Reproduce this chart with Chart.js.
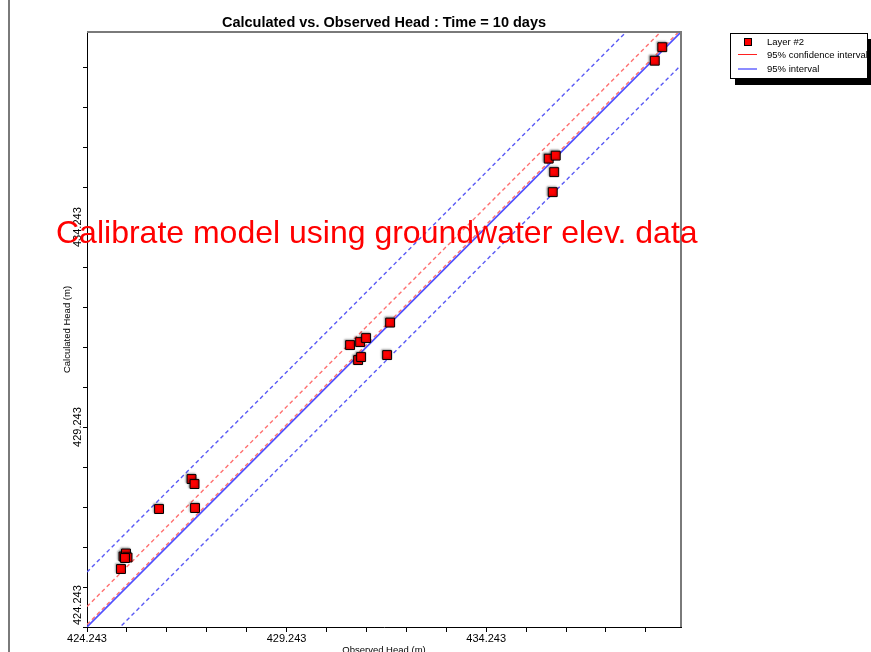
<!DOCTYPE html>
<html>
<head>
<meta charset="utf-8">
<script src="https://cdn.jsdelivr.net/npm/chart.js@4/dist/chart.umd.min.js"></script>
<style>
  html, body { margin: 0; padding: 0; background: #fff; }
  #wrap { position: relative; width: 871px; height: 652px; overflow: hidden; font-family: 'Liberation Sans', Arial, sans-serif; }
  #c { position: absolute; left: 0; top: 0; }
  #frameLine { position: absolute; left: 8px; top: 0; width: 2px; height: 652px; background: #7a7a7a; }
  #legend { position: absolute; left: 730px; top: 33px; width: 136px; height: 44px; border: 1px solid #000; background: #fff; box-shadow: 5px 6px 0 #000; font-size: 9.5px; color: #000; white-space: nowrap; }
  #legend .t { position: absolute; left: 36px; line-height: 12px; }
  #legend .mk { position: absolute; left: 13px; top: 4px; width: 6px; height: 6px; background: #ff0000; border: 1px solid #000; }
  #legend .ln { position: absolute; left: 7px; width: 19px; }
  #overlay { position: absolute; left: 56px; top: 216px; font-size: 32px; line-height: 32px; color: #ff0000; white-space: nowrap; }
</style>
</head>
<body>
<div id="wrap">
  <canvas id="c" width="871" height="652"></canvas>
  <div id="frameLine"></div>
  <div id="legend">
    <div class="mk"></div>
    <div class="t" style="top:2px;">Layer #2</div>
    <div class="ln" style="top:20px;height:1px;background:#ff2020;"></div>
    <div class="t" style="top:15px;">95% confidence interval</div>
    <div class="ln" style="top:34px;height:2px;background:#8c8cff;"></div>
    <div class="t" style="top:29px;">95% interval</div>
  </div>
  <div id="overlay">Calibrate model using groundwater elev. data</div>
</div>
<script>
// ---- data ----
const observedHead = [425.095, 425.158, 425.220, 425.258, 425.195, 426.048, 426.862, 426.937, 426.950,
  430.834, 431.085, 431.235, 431.837, 431.035, 431.110, 431.762,
  435.809, 435.985, 435.947, 435.910, 438.654, 438.466];
const calculatedHead = [425.693, 426.006, 426.081, 425.981, 425.968, 427.193, 427.943, 427.818, 427.218,
  431.293, 431.368, 431.468, 431.856, 430.918, 430.993, 431.043,
  435.956, 436.031, 435.618, 435.118, 438.743, 438.405];
const axisRange = [424.243, 439.123];
const tickValues = [424.243, 425.243, 426.243, 427.243, 428.243, 429.243, 430.243, 431.243,
  432.243, 433.243, 434.243, 435.243, 436.243, 437.243, 438.243];
const majorTickLabels = ['424.243', '429.243', '434.243'];
const confidenceOffsets = [0.51, 0.06];   // 95% confidence interval (calc - obs)
const intervalOffsets = [1.375, -0.83];   // 95% interval (calc - obs)
const titleText = 'Calculated vs. Observed Head : Time = 10 days';
const xTitle = 'Observed Head (m)';
const yTitle = 'Calculated Head (m)';

const FONT = "'Liberation Sans', Arial, sans-serif";
Chart.defaults.font.family = FONT;

function offsetLine(off) {
  return [{ x: axisRange[0], y: axisRange[0] + off }, { x: axisRange[1], y: axisRange[1] + off }];
}
function labelFor(v) {
  const l = majorTickLabels.find(s => Math.abs(parseFloat(s) - v) < 1e-6);
  return l || '';
}

const datasets = [
  {
    label: 'Layer #2', type: 'scatter',
    data: observedHead.map((x, i) => ({ x, y: calculatedHead[i] })),
    pointStyle: 'rect', pointRadius: 6.3, pointHoverRadius: 6.3,
    backgroundColor: '#ff0000', borderColor: '#000', borderWidth: 1, order: 0
  },
  {
    label: '1:1', type: 'line', data: offsetLine(0),
    borderColor: '#4f4fff', borderWidth: 1.6, pointRadius: 0, order: 1
  }
];
confidenceOffsets.forEach(o => datasets.push({
  label: '95% confidence interval', type: 'line', data: offsetLine(o),
  borderColor: '#ff7070', borderWidth: 1.4, borderDash: [4, 3], pointRadius: 0, order: 2
}));
intervalOffsets.forEach(o => datasets.push({
  label: '95% interval', type: 'line', data: offsetLine(o),
  borderColor: '#5a5af5', borderWidth: 1.4, borderDash: [4, 3], pointRadius: 0, order: 2
}));

const shadowPlugin = {
  id: 'pointShadow',
  beforeDatasetDraw(chart, args) {
    if (args.index === 0) {
      const c = chart.ctx; c.save();
      c.shadowColor = 'rgba(0,0,0,0.35)'; c.shadowBlur = 2; c.shadowOffsetX = -1; c.shadowOffsetY = -1;
    }
  },
  afterDatasetDraw(chart, args) { if (args.index === 0) chart.ctx.restore(); }
};

const annotPlugin = {
  id: 'annot',
  afterDraw(chart) {
    const { ctx, chartArea: ca, scales: { y } } = chart;
    ctx.save();
    // top & right frame
    ctx.strokeStyle = '#7a7a7a'; ctx.lineWidth = 2;
    ctx.beginPath();
    ctx.moveTo(ca.left, ca.top); ctx.lineTo(ca.right, ca.top); ctx.lineTo(ca.right, ca.bottom);
    ctx.stroke();
    // rotated y tick labels
    ctx.fillStyle = '#000'; ctx.font = '11px ' + FONT; ctx.textBaseline = 'middle';
    majorTickLabels.forEach((l, i) => {
      const py = y.getPixelForValue(parseFloat(l));
      ctx.save();
      ctx.translate(ca.left - 9, i === 0 ? py - 2 : py);
      ctx.rotate(-Math.PI / 2);
      ctx.textAlign = i === 0 ? 'left' : 'center';
      ctx.fillText(l, 0, 0);
      ctx.restore();
    });
    // axis titles
    ctx.font = '9.5px ' + FONT;
    ctx.textAlign = 'center'; ctx.textBaseline = 'alphabetic';
    ctx.fillText(xTitle, (ca.left + ca.right) / 2, 652.5);
    ctx.save();
    ctx.translate(69.5, 329.5);
    ctx.rotate(-Math.PI / 2);
    ctx.fillText(yTitle, 0, 0);
    ctx.restore();
    ctx.restore();
  }
};

new Chart(document.getElementById('c'), {
  type: 'scatter',
  data: { datasets },
  plugins: [shadowPlugin, annotPlugin],
  options: {
    responsive: false, animation: false, events: [],
    layout: { padding: { left: 87, right: 190, top: 0, bottom: 0 } },
    plugins: {
      legend: { display: false },
      tooltip: { enabled: false },
      title: {
        display: true, text: titleText, color: '#000',
        font: { family: FONT, size: 14.5, weight: 'bold', lineHeight: 1.2 },
        padding: { top: 14.6, bottom: 0 }
      }
    },
    scales: {
      x: {
        type: 'linear', min: axisRange[0], max: axisRange[1],
        afterBuildTicks: s => { s.ticks = tickValues.map(v => ({ value: v })); },
        afterFit: s => { s.height = 25; },
        ticks: { callback: v => labelFor(v), color: '#000', font: { size: 11 }, padding: 0, autoSkip: false, maxRotation: 0, minRotation: 0 },
        grid: { drawOnChartArea: false, tickLength: 5, color: '#000', lineWidth: 1 },
        border: { color: '#000', width: 1 }
      },
      y: {
        type: 'linear', min: axisRange[0], max: axisRange[1],
        afterBuildTicks: s => { s.ticks = tickValues.map(v => ({ value: v })); },
        afterFit: s => { s.width = 0; },
        ticks: { display: false },
        grid: { drawOnChartArea: false, tickLength: 4, color: '#000', lineWidth: 1 },
        border: { color: '#000', width: 1 }
      }
    }
  }
});
</script>
</body>
</html>
